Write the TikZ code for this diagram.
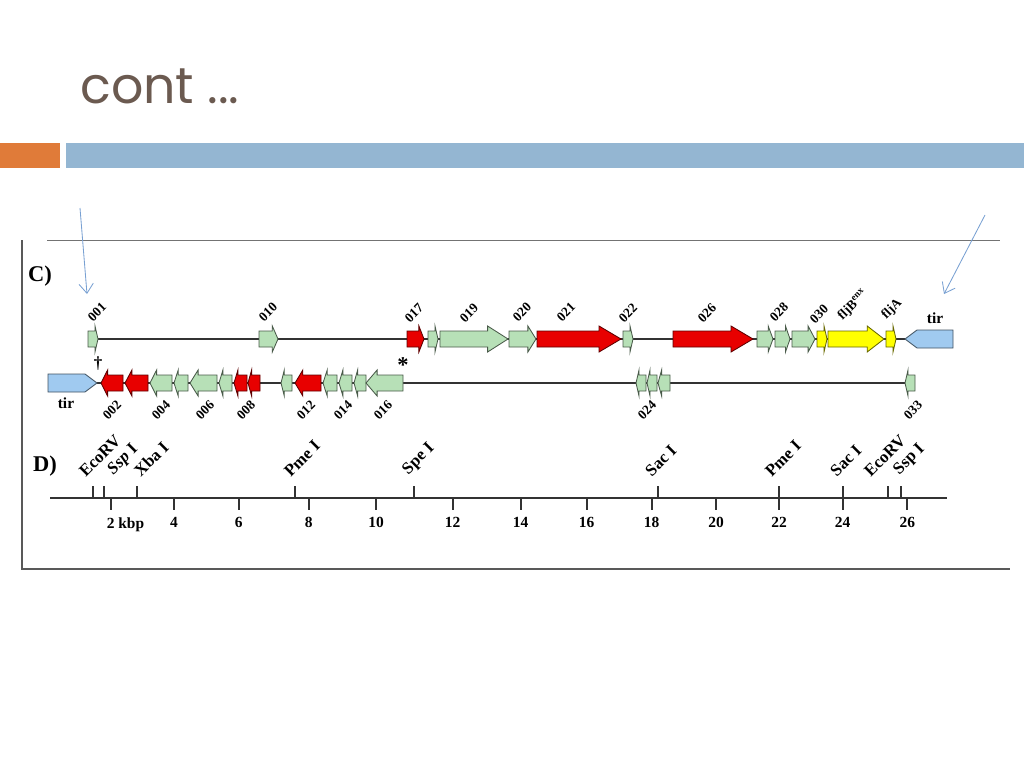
\documentclass[tikz,border=0pt]{standalone}
\usepackage{fontspec}
\usetikzlibrary{arrows.meta}
\setmainfont{Liberation Serif}
\newfontfamily\titlefont{Poppins}
\definecolor{gengreen}{RGB}{183,224,183}
\definecolor{genred}{RGB}{232,0,0}
\definecolor{genyellow}{RGB}{255,255,0}
\definecolor{tirblue}{RGB}{160,202,240}
\definecolor{titlebrown}{RGB}{107,90,80}
\definecolor{barorange}{RGB}{224,123,57}
\definecolor{barblue}{RGB}{148,182,210}
\definecolor{pointblue}{RGB}{120,160,210}
% gene arrows: x1, x2, y, colour
\newcommand\gener[4]{%
	\pgfmathsetmacro\hd{min(0.3*(#2-#1),22)}
	\draw[gene,fill=#4,draw=#4!40!black] (#1,#3-8)--({#2-\hd},#3-8)--({#2-\hd},#3-13)--(#2,#3)--({#2-\hd},#3+13)--({#2-\hd},#3+8)--(#1,#3+8)--cycle;}
\newcommand\genel[4]{%
	\pgfmathsetmacro\hd{min(0.3*(#2-#1),22)}
	\draw[gene,fill=#4,draw=#4!40!black] (#2,#3-8)--({#1+\hd},#3-8)--({#1+\hd},#3-13)--(#1,#3)--({#1+\hd},#3+13)--({#1+\hd},#3+8)--(#2,#3+8)--cycle;}
\begin{document}
\begin{tikzpicture}[x=0.25mm,y=-0.25mm,line join=miter,>={Straight Barb[length=2.4mm,width=3.6mm]},font=\bfseries]
	\tikzset{gene/.style={line width=0.6pt},
		strand/.style={line width=1.2pt,black!80},
		glabel/.style={rotate=45,inner sep=0pt,font=\bfseries\fontsize{9.5}{10}\selectfont},
		slabel/.style={rotate=45,inner sep=0pt,anchor=south west,font=\bfseries\fontsize{12}{12}\selectfont},
		klabel/.style={inner sep=0pt,anchor=north,font=\bfseries\fontsize{11}{11}\selectfont},
		pointer/.style={->,pointblue,line width=0.6pt},
		tir/.style={fill=tirblue,draw=tirblue!40!black,line width=0.6pt}}
	\useasboundingbox (0,0) rectangle (1024,768);
	% title and bars
	\node[anchor=base west,inner sep=0pt,text=titlebrown,font=\titlefont\fontsize{36}{36}\selectfont] (title) at (80,103) {cont ...};
	\fill[barorange] (0,143) rectangle (60,168);
	\fill[barblue] (66,143) rectangle (1024,168);
	% frame of the figure
	\draw[black!55,line width=0.6pt] (47,240)--(1000,240);
	\draw[black!65,line width=0.8pt] (22,240)--(22,569)--(1010,569);
	\node[font=\bfseries\fontsize{16}{16}\selectfont] (lC) at (40,276) {C)};
	\node[font=\bfseries\fontsize{16}{16}\selectfont] (lD) at (45,466) {D)};
	% strands
	\coordinate (t1) at (96,339); \coordinate (t2) at (905,339);
	\coordinate (b1) at (97,383); \coordinate (b2) at (907,383);
	\draw[strand] (t1)--(t2);
	\draw[strand] (b1)--(b2);
	\draw[tir] (953,330)--(917,330)--(905,339)--(917,348)--(953,348)--cycle;
	\draw[tir] (48,374)--(85,374)--(97,383)--(85,392)--(48,392)--cycle;
	\node[font=\bfseries\fontsize{11}{11}\selectfont] (tirR) at (935,318) {tir};
	\node[font=\bfseries\fontsize{11}{11}\selectfont] (tirL) at (66,403) {tir};
	\foreach \a/\b/\c in {88/98/gengreen,259/278/gengreen,407/424/genred,428/438/gengreen,
		440/508/gengreen,509/536/gengreen,537/621/genred,623/633/gengreen,673/753/genred,
		757/773/gengreen,775/790/gengreen,792/815/gengreen,817/827/genyellow,
		828/884/genyellow,886/896/genyellow}
	\gener{\a}{\b}{339}{\c};
	\foreach \a/\b/\c in {101/123/genred,125/148/genred,150/172/gengreen,174/188/gengreen,
		190/217/gengreen,219/232/gengreen,234/247/genred,248/260/genred,281/292/gengreen,
		295/321/genred,323/337/gengreen,339/352/gengreen,354/366/gengreen,366/403/gengreen,
		636/646/gengreen,647/657/gengreen,658/670/gengreen,905/915/gengreen}
	\genel{\a}{\b}{383}{\c};
	% gene names
	\foreach \x/\y/\t [count=\i] in {97/312/001,268/312/010,414/313/017,469/313/019,522/312/020,
		566/312/021,628/313/022,707/313/026,779/312/028,819/314/030,
		853/305/{fljB\textsuperscript{enx}},892/309/fljA}
	\node[glabel] (gt\i) at (\x,\y) {\t};
	\foreach \x/\t [count=\i] in {112/002,161/004,205/006,246/008,306/012,343/014,383/016,
		647/024,913/033}
	\node[glabel] (gb\i) at (\x,410) {\t};
	\node[font=\bfseries\fontsize{12}{12}\selectfont] (dag) at (98,364) {†};
	\node[font=\bfseries\fontsize{16}{16}\selectfont] (ast) at (403,365) {*};
	% pointers
	\coordinate (p1) at (80,208); \coordinate (q1) at (87,294);
	\coordinate (p2) at (985,215); \coordinate (q2) at (944,294);
	\draw[pointer] (p1)--(q1);
	\draw[pointer] (p2)--(q2);
	% scale in kbp
	\coordinate (s1) at (50,498); \coordinate (s2) at (947,498);
	\draw[strand] (s1)--(s2);
	\foreach \v/\x in {4/174,6/238.7,8/308.7,10/376,12/452.7,14/520.7,16/586.7,
		18/651.7,20/716,22/779,24/842.7,26/907.3}{
		\draw[strand] (\x,498)--(\x,510);
		\node[klabel] (k\v) at (\x,517) {\v};}
	\draw[strand] (110.7,498)--(110.7,510);
	\node[klabel,anchor=north west] (k2) at (106.5,517) {2 kbp};
	% restriction sites
	\foreach \x/\l/\t [count=\i] in {93.3/82/EcoRV,104/112/{\textit{Ssp} I},137.3/137/Xba I,
		295/287/Pme I,414/407/Spe I,657.7/648/Sac I,778.7/768/Pme I,842.7/833/Sac I,
		888.3/867/EcoRV,901/898/Ssp I}{
		\draw[strand] (\x,486)--(\x,498);
		\node[slabel] (r\i) at (\l+4,478) {\t};}
\end{tikzpicture}
\end{document}
